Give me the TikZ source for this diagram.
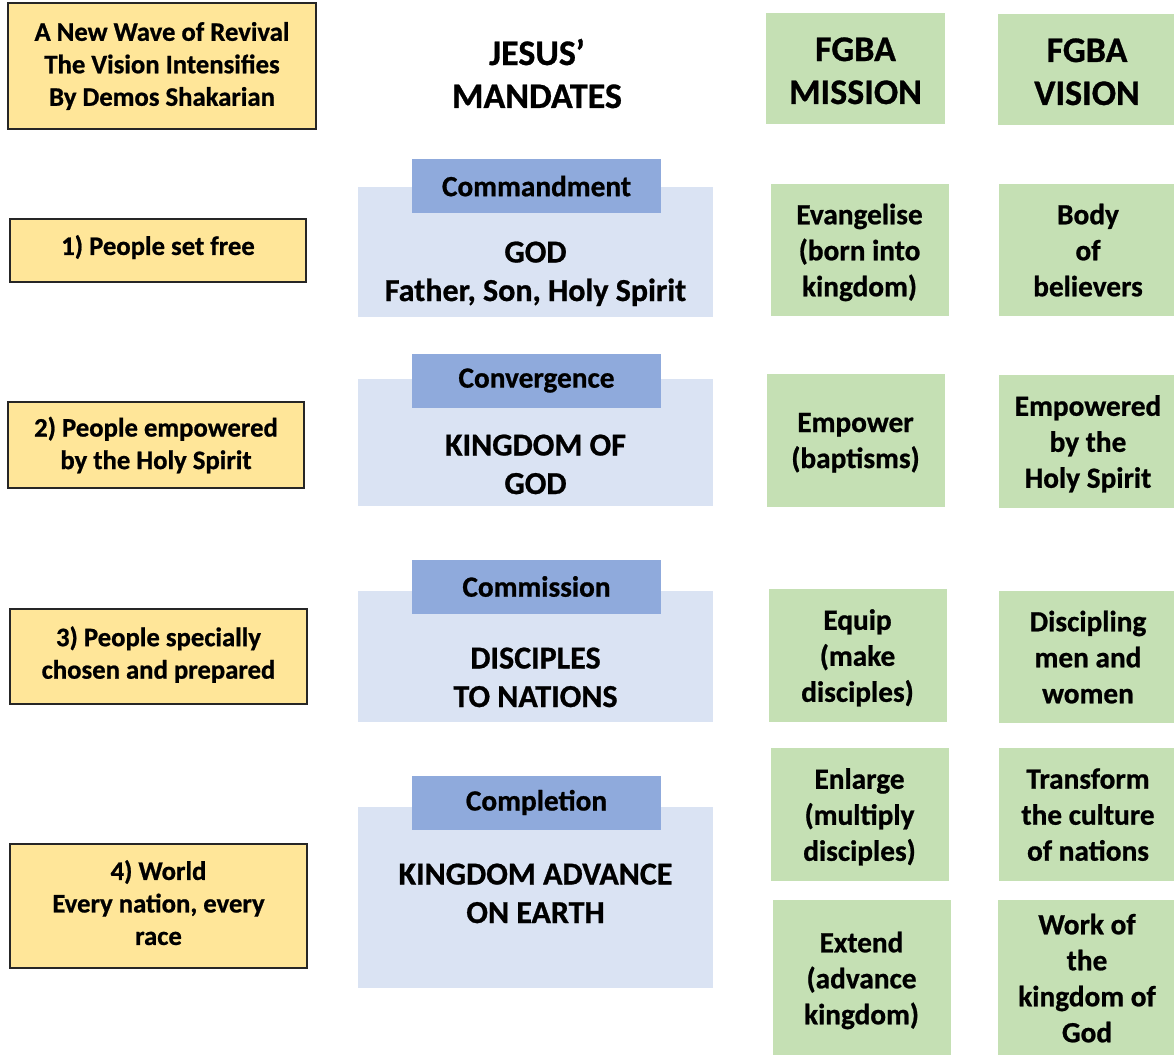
\documentclass[tikz,border=0pt]{standalone}
\usepackage{fontspec}
\setmainfont{Carlito}[BoldFeatures={FakeBold=0.8}]
\definecolor{yellowfill}{HTML}{FFE699}
\definecolor{bluefill}{HTML}{DAE3F3}
\definecolor{tabfill}{HTML}{8FAADC}
\definecolor{greenfill}{HTML}{C5E0B4}
\tikzset{
  yellowbox/.style={shape=rectangle,draw=black!85,line width=1.5pt,fill=yellowfill,inner sep=0pt,align=center,font=\bfseries\fontsize{26.7pt}{32.5pt}\selectfont},
  bluebox/.style={shape=rectangle,fill=bluefill,inner sep=0pt,minimum width=355pt},
  tabbox/.style={shape=rectangle,fill=tabfill,inner sep=0pt,minimum width=249pt,minimum height=54pt,font=\bfseries\fontsize{29.3pt}{35pt}\selectfont},
  greenbox/.style={shape=rectangle,fill=greenfill,inner sep=0pt,align=center,minimum width=178pt,text depth=0pt,font=\bfseries\fontsize{29.3pt}{36pt}\selectfont},
  bluetext/.style={align=center,inner sep=0pt,anchor=base,font=\bfseries\fontsize{32pt}{38.5pt}\selectfont},
  headtext/.style={align=center,inner sep=0pt,anchor=base,font=\bfseries\fontsize{36pt}{43pt}\selectfont}
}
\begin{document}
\begin{tikzpicture}[x=1pt,y=-1pt]
  \useasboundingbox (0,0) rectangle (1174,1054);

  % left column
  \node[yellowbox,minimum width=308pt,minimum height=126pt] (title) at (162,66) {A New Wave of Revival\\The Vision Intensifies\\By Demos Shakarian};
  \node[yellowbox,minimum width=296pt,minimum height=63pt,text depth=11pt] (p1) at (158,250.5) {1) People set free};
  \node[yellowbox,minimum width=296pt,minimum height=86pt] (p2) at (156,445) {2) People empowered\\by the Holy Spirit};
  \node[yellowbox,minimum width=297pt,minimum height=95pt,text depth=8pt] (p3) at (158.5,656.5) {3) People specially\\chosen and prepared};
  \node[yellowbox,minimum width=297pt,minimum height=124pt,text depth=7pt] (p4) at (158.5,906) {4) World\\Every nation, every\\race};

  % middle column
  \node[headtext] (mandates) at (537,108) {JESUS’\\MANDATES};

  \node[bluebox,minimum height=130pt] (m1) at (535.5,252) {};
  \node[tabbox] (c1) at (536.5,186) {Commandment};
  \node[bluetext] (m1text) at (535.5,301) {GOD\\Father, Son, Holy Spirit};

  \node[bluebox,minimum height=127pt] (m2) at (535.5,442.5) {};
  \node[tabbox] (c2) at (536.5,380.5) {Convergence};
  \node[bluetext] (m2text) at (535.5,494) {KINGDOM OF\\GOD};

  \node[bluebox,minimum height=131pt] (m3) at (535.5,656.5) {};
  \node[tabbox] (c3) at (536.5,586.5) {Commission};
  \node[bluetext] (m3text) at (535.5,707) {DISCIPLES\\TO NATIONS};

  \node[bluebox,minimum height=181pt] (m4) at (535.5,897.5) {};
  \node[tabbox] (c4) at (536.5,802.5) {Completion};
  \node[bluetext] (m4text) at (535.5,923) {KINGDOM ADVANCE\\ON EARTH};

  % right columns
  \node[greenbox,minimum width=179pt,minimum height=111pt] (mission) at (855.5,68.5) {};
  \node[headtext] (missiontext) at (855.5,104) {FGBA\\MISSION};
  \node[greenbox,minimum height=111pt] (vision) at (1087,69.5) {};
  \node[headtext] (visiontext) at (1087,105) {FGBA\\VISION};

  \node[greenbox,minimum height=132pt] (g1) at (859.5,250) {Evangelise\\(born into\\kingdom)};
  \node[greenbox,minimum height=133pt] (g2) at (855.5,440.5) {Empower\\(baptisms)};
  \node[greenbox,minimum height=133pt] (g3) at (857.5,655.5) {Equip\\(make\\disciples)};
  \node[greenbox,minimum height=133pt] (g4) at (859.5,814.5) {Enlarge\\(multiply\\disciples)};
  \node[greenbox,minimum height=156pt] (g5) at (861.5,978) {Extend\\(advance\\kingdom)};

  \node[greenbox,minimum height=132pt] (v1) at (1088,250) {Body\\of\\believers};
  \node[greenbox,minimum height=133pt] (v2) at (1088,441.5) {Empowered\\by the\\Holy Spirit};
  \node[greenbox,minimum height=132pt] (v3) at (1088,657) {Discipling\\men and\\women};
  \node[greenbox,minimum height=133pt] (v4) at (1088,814.5) {Transform\\the culture\\of nations};
  \node[greenbox,minimum height=156pt] (v5) at (1087,978) {Work of\\the\\kingdom of\\God};
\end{tikzpicture}
\end{document}
